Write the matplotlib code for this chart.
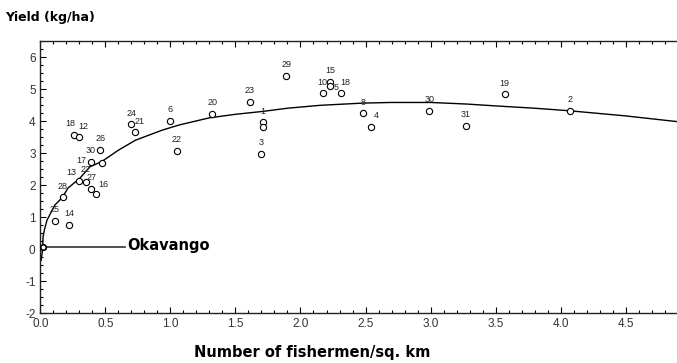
import numpy as np
import matplotlib.pyplot as plt
from matplotlib.ticker import MultipleLocator, FormatStrFormatter

plt.rcParams['font.family'] = ['Liberation Sans', 'DejaVu Sans']
plt.rcParams['axes.unicode_minus'] = False

# fitted curve
curve_x = [0.005, 0.015, 0.02, 0.03, 0.05, 0.11, 0.17, 0.21, 0.30, 0.38, 0.47, 0.60,
           0.73, 0.94, 1.07, 1.30, 1.50, 1.71, 1.90, 2.15, 2.48, 2.70, 3.00, 3.28,
           3.51, 3.80, 4.07, 4.50, 4.90]
curve_y = [-0.35, -0.05, 0.38, 0.60, 0.90, 1.37, 1.62, 1.90, 2.20, 2.57, 2.73, 3.09,
           3.40, 3.72, 3.88, 4.10, 4.21, 4.30, 4.40, 4.49, 4.56, 4.58, 4.58, 4.53,
           4.47, 4.40, 4.32, 4.16, 3.98]

# observed fisheries
pt_labels = ["25", "14", "28", "13", "22", "27", "16", "17", "30", "26", "18", "12",
             "24", "21", "6", "22", "20", "23", "29", "1", "", "3", "10", "15", "5",
             "18", "8", "4", "30", "31", "19", "2"]
pt_x = [0.11, 0.22, 0.17, 0.30, 0.35, 0.39, 0.43, 0.39, 0.47, 0.46, 0.26, 0.30,
        0.70, 0.73, 1.00, 1.05, 1.32, 1.61, 1.89, 1.71, 1.71, 1.70, 2.17, 2.23, 2.23,
        2.31, 2.48, 2.54, 2.99, 3.27, 3.57, 4.07]
pt_y = [0.88, 0.75, 1.62, 2.12, 2.08, 1.88, 1.72, 2.71, 2.68, 3.10, 3.56, 3.51,
        3.90, 3.67, 4.00, 3.07, 4.22, 4.60, 5.42, 3.96, 3.80, 2.97, 4.87, 5.22, 5.08,
        4.87, 4.24, 3.82, 4.32, 3.85, 4.83, 4.32]

okavango_x = 0.02
okavango_y = 0.05

# label offsets (points) where the default "above" would not match
label_offsets = {3: (-6, 6), 4: (0, 9), 5: (0, 8), 6: (5, 7), 7: (-7, 1), 8: (-8, 9),
                 10: (-3, 8), 11: (3, 7), 13: (3, 7), 24: (4, -1), 25: (3, 8),
                 27: (4, 8)}

fig = plt.figure(figsize=(6.77, 3.63), dpi=100)
ax = fig.add_axes([0.0598, 0.1377, 0.9402, 0.7493])

ax.plot(curve_x, curve_y, color='black', lw=1.0, zorder=2)
ax.plot(pt_x, pt_y, 'o', ms=4.5, mfc='white', mec='black', mew=0.8, zorder=3)
ax.plot([okavango_x], [okavango_y], 'o', ms=4, mfc='white', mec='black', mew=1.2, zorder=3)

for i, (lab, x, y) in enumerate(zip(pt_labels, pt_x, pt_y)):
    if not lab:
        continue
    dx, dy = label_offsets.get(i, (0, 8))
    ax.annotate(lab, (x, y), xytext=(dx, dy), textcoords='offset points',
                ha='center', va='center', fontsize=6.5, color='#222222')

# Okavango marker line and label
ax.plot([okavango_x, 0.65], [okavango_y, okavango_y], color='#333333', lw=1.2, zorder=2)
ax.text(0.67, okavango_y + 0.05, "Okavango", fontsize=10.5, fontweight='bold',
        family='DejaVu Sans', ha='left', va='center')

ax.set_xlim(0, 4.896)
ax.set_ylim(-2, 6.5)
ax.xaxis.set_major_locator(MultipleLocator(0.5))
ax.xaxis.set_minor_locator(MultipleLocator(0.1))
ax.yaxis.set_major_locator(MultipleLocator(1))
ax.yaxis.set_minor_locator(MultipleLocator(0.25))
ax.xaxis.set_major_formatter(FormatStrFormatter('%.1f'))
ax.tick_params(which='both', direction='in', top=True, right=False,
               labelsize=8.5, labelcolor='#333333', width=0.8)
ax.tick_params(which='major', length=4)
ax.tick_params(which='minor', length=2)
ax.spines['right'].set_visible(False)
for s in ['left', 'bottom', 'top']:
    ax.spines[s].set_linewidth(1.0)
    ax.spines[s].set_color('#222222')

fig.text(5 / 677, 1 - 17 / 363, "Yield (kg/ha)", fontsize=9, fontweight='bold',
         family='DejaVu Sans', ha='left', va='center')
fig.text(312 / 677, 1 - 352 / 363, "Number of fishermen/sq. km", fontsize=10.5,
         fontweight='bold', family='DejaVu Sans', ha='center', va='center')

fig.savefig("out.png", dpi=100)
